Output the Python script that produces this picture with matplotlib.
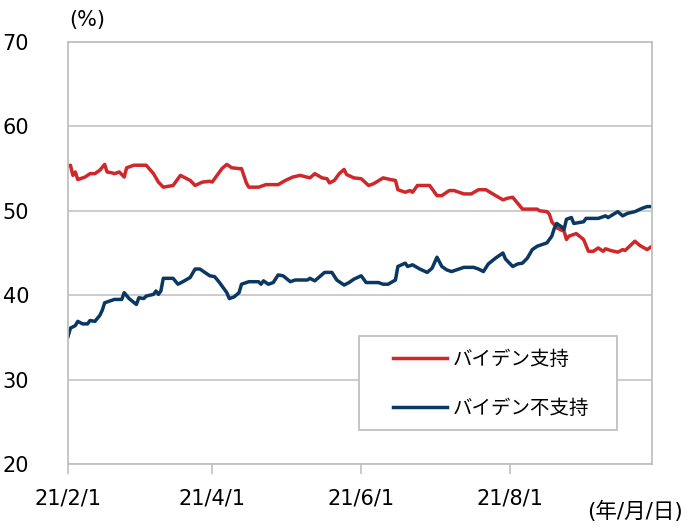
import matplotlib
matplotlib.use("Agg")
import matplotlib.pyplot as plt
import pandas as pd
from matplotlib.patches import Rectangle

plt.rcParams['font.family'] = ['DejaVu Sans', 'Noto Sans CJK JP']

START = "2021-02-01"

# days since 2021/2/1, approval (%)
support_days = [0, 1, 2, 3, 4, 7, 9, 11, 13, 15, 16, 18, 19, 21, 23, 24, 27, 32, 35, 37,
                39, 41, 43, 46, 48, 50, 52, 55, 58, 59, 60, 63, 65, 67, 70, 71, 73, 74, 78, 81,
                86, 89, 92, 95, 99, 101, 104, 106, 107, 109, 111, 113, 114, 117, 120, 123, 125, 129, 132, 134,
                135, 138, 140, 141, 143, 148, 151, 153, 156, 158, 162, 165, 168, 171, 175, 178, 180, 182, 184, 186,
                192, 193, 196, 197, 198, 200, 202, 203, 204, 205, 208, 211, 213, 215, 217, 219, 220, 222, 225, 227,
                228, 232, 234, 237, 239]
support = [55.3, 55.4, 54.2, 54.6, 53.7, 54.0, 54.4, 54.4, 54.8, 55.5, 54.6, 54.5, 54.4, 54.6, 54.0, 55.1, 55.4, 55.4, 54.4, 53.4,
           52.8, 52.9, 53.0, 54.2, 53.9, 53.6, 53.0, 53.4, 53.5, 53.4, 53.8, 55.0, 55.5, 55.1, 55.0, 55.0, 53.3, 52.8, 52.8, 53.1,
           53.1, 53.6, 54.0, 54.2, 53.9, 54.4, 53.9, 53.8, 53.3, 53.6, 54.4, 54.9, 54.3, 53.9, 53.8, 53.0, 53.2, 53.9, 53.7, 53.6,
           52.5, 52.2, 52.4, 52.2, 53.0, 53.0, 51.8, 51.8, 52.4, 52.4, 52.0, 52.0, 52.5, 52.5, 51.8, 51.3, 51.5, 51.6, 50.9, 50.2,
           50.2, 50.0, 49.9, 49.6, 48.7, 48.0, 47.7, 47.6, 46.6, 47.0, 47.3, 46.6, 45.2, 45.2, 45.6, 45.2, 45.5, 45.3, 45.1, 45.4,
           45.3, 46.4, 45.9, 45.4, 45.8]

oppose_days = [0, 1, 3, 4, 6, 8, 9, 11, 13, 14, 15, 17, 19, 22, 23, 25, 28, 29, 31, 32,
               35, 36, 37, 38, 39, 43, 45, 47, 50, 52, 54, 56, 58, 60, 62, 65, 66, 68, 70, 71,
               73, 74, 78, 79, 80, 82, 84, 86, 88, 91, 93, 98, 99, 101, 105, 108, 110, 113, 115, 117,
               120, 122, 127, 129, 131, 134, 135, 138, 139, 141, 144, 147, 149, 151, 153, 155, 157, 162, 166, 168,
               170, 172, 175, 178, 179, 182, 184, 186, 188, 190, 192, 194, 196, 198, 199, 200, 202, 203, 204, 206,
               207, 211, 212, 217, 220, 221, 225, 227, 229, 232, 235, 237, 239]
oppose = [35.1, 36.1, 36.4, 36.9, 36.6, 36.6, 37.0, 36.9, 37.6, 38.2, 39.1, 39.3, 39.5, 39.5, 40.3, 39.6, 38.9, 39.7, 39.6, 39.9,
          40.1, 40.5, 40.1, 40.5, 42.0, 42.0, 41.3, 41.6, 42.1, 43.1, 43.1, 42.7, 42.3, 42.2, 41.5, 40.3, 39.6, 39.8, 40.3, 41.3,
          41.5, 41.6, 41.6, 41.3, 41.7, 41.3, 41.5, 42.4, 42.3, 41.6, 41.8, 41.8, 42.0, 41.7, 42.7, 42.7, 41.8, 41.2, 41.5, 41.9,
          42.3, 41.5, 41.5, 41.3, 41.3, 41.8, 43.4, 43.8, 43.4, 43.6, 43.1, 42.7, 43.2, 44.5, 43.4, 43.0, 42.8, 43.3, 43.3, 43.1,
          42.8, 43.7, 44.4, 45.0, 44.3, 43.4, 43.7, 43.8, 44.4, 45.4, 45.8, 46.0, 46.2, 47.0, 47.9, 48.5, 48.1, 47.8, 49.0, 49.2,
          48.5, 48.7, 49.1, 49.1, 49.4, 49.2, 49.9, 49.4, 49.7, 49.9, 50.3, 50.5, 50.5]

labels = ["バイデン支持", "バイデン不支持"]
tick_dates = ["2021-02-01", "2021-04-01", "2021-06-01", "2021-08-01"]
tick_labels = ["21/2/1", "21/4/1", "21/6/1", "21/8/1"]

x_sup = pd.to_datetime(START) + pd.to_timedelta(support_days, unit="D")
x_opp = pd.to_datetime(START) + pd.to_timedelta(oppose_days, unit="D")

W, H = 697, 528
fig = plt.figure(figsize=(6.97, 5.28), dpi=100)
ax = fig.add_axes([68/W, 64/H, 584/W, 422/H])

ax.plot(x_sup, support, color="#d0282a", lw=2.5, label=labels[0], solid_joinstyle="round")
ax.plot(x_opp, oppose, color="#0b3763", lw=2.5, label=labels[1], solid_joinstyle="round")

ax.set_ylim(20, 70)
ax.set_yticks([20, 30, 40, 50, 60, 70])
ax.set_xlim(pd.to_datetime(START), pd.to_datetime(START) + pd.Timedelta(days=239))
ax.set_xticks(pd.to_datetime(tick_dates))
ax.set_xticklabels(tick_labels)

ax.grid(axis="y", color="#c8c8c8", lw=1.3)
ax.set_axisbelow(True)
for s in ax.spines.values():
    s.set_color("#c0c0c0")
    s.set_linewidth(1.3)

ax.tick_params(axis="y", length=0, pad=28, labelsize=15)
ax.tick_params(axis="x", length=7, width=1.2, color="#c0c0c0", pad=11, labelsize=15)

fig.text(87/W, 1 - 20/H, "(%)", fontsize=15, ha="center", va="center")
fig.text(683/W, 1 - 511/H, "(年/月/日)", fontsize=15.5, ha="right", va="center")

# legend box drawn separately so the padding matches
ax.add_patch(Rectangle((359/W, 1 - 430/H), (617-359)/W, (430-336)/H,
                       transform=fig.transFigure, facecolor="white",
                       edgecolor="#c0c0c0", lw=1.3, zorder=5, clip_on=False))
leg = ax.legend(loc="upper left", bbox_to_anchor=(393/W, 1 - 349/H),
                bbox_transform=fig.transFigure, frameon=False, fontsize=14,
                handlelength=2.8, borderpad=0, labelspacing=1.45,
                handletextpad=0.25, borderaxespad=0)
leg.set_zorder(6)
for t in leg.get_texts():
    t.set_family(['Noto Sans CJK JP'])

fig.savefig("out.png", dpi=100)
